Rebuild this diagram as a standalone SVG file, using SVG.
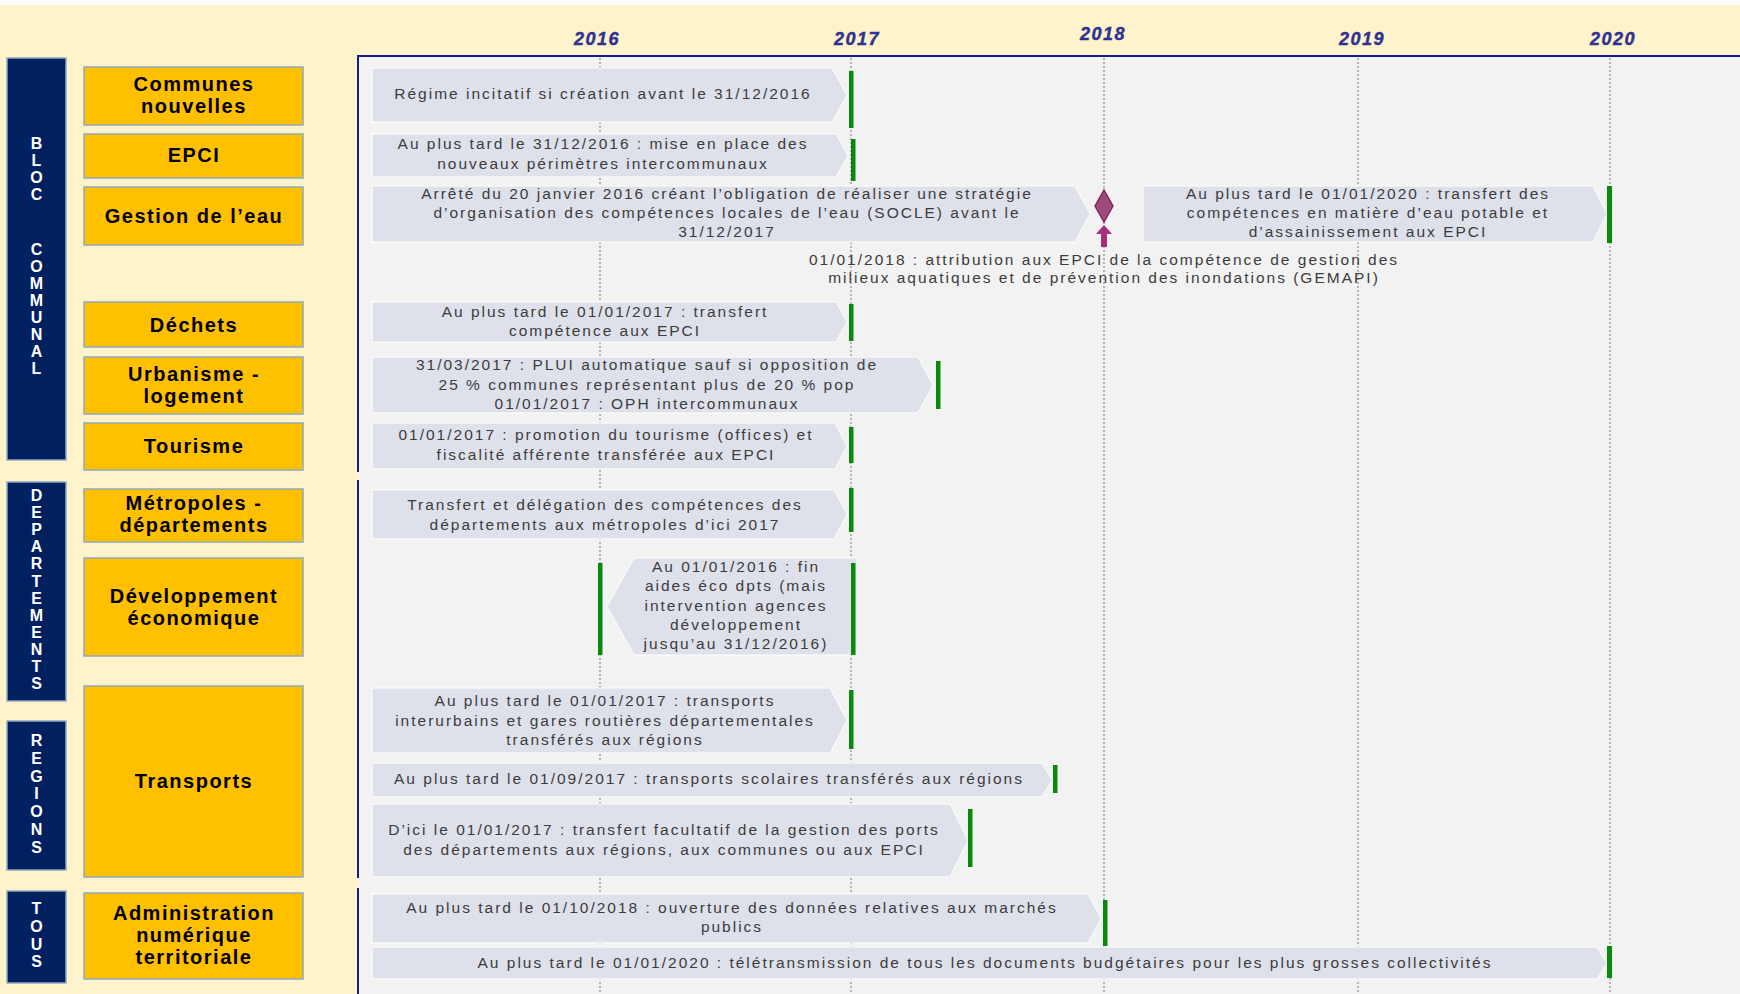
<svg xmlns="http://www.w3.org/2000/svg" width="1740" height="994" viewBox="0 0 1740 994">
<defs>
<style>
.bg{fill:#FFF3CC}
.cat{fill:#002060;stroke:#8FA9BF;stroke-width:1.5}
.catt{font-family:"Liberation Sans",Arial,sans-serif;font-weight:bold;font-size:16px;fill:#FFFFFF;text-anchor:middle}
.box{fill:#FFC000;stroke:#8FA9BF;stroke-width:1.5}
.boxt{font-family:"Liberation Sans",Arial,sans-serif;font-weight:bold;font-size:20px;fill:#000000;text-anchor:middle;letter-spacing:1.5px}
.arr{fill:#DEE1EA;stroke:#FFFFFF;stroke-width:1}
.t{font-family:"Liberation Sans",Arial,sans-serif;font-size:15.5px;fill:#3C3C3C;text-anchor:middle;letter-spacing:2px}
.yr{font-family:"Liberation Sans",Arial,sans-serif;font-weight:bold;font-style:italic;font-size:18px;fill:#2E3192;stroke:#2E3192;stroke-width:0.4;text-anchor:middle;letter-spacing:1.5px}
.grid{stroke:#8C8C8C;stroke-width:1.2;stroke-dasharray:2 2}
.gb{fill:#0A8A0A}
.pb{stroke:#1A1A8C;stroke-width:2;fill:none}
</style>
</defs>

<rect x="0" y="0" width="1740" height="994" fill="#FFFFFF"/>
<rect class="bg" x="0" y="5" width="1740" height="989"/>

<g id="timeline-panel">
<rect x="358" y="56" width="1382" height="938" fill="#F2F2F2"/>
<line class="pb" x1="358" y1="56" x2="1740" y2="56"/>
<line class="pb" x1="358" y1="55" x2="358" y2="472"/>
<line class="pb" x1="358" y1="480" x2="358" y2="878"/>
<line class="pb" x1="358" y1="888" x2="358" y2="994"/>
</g>

<g id="years">
<text class="yr" x="597" y="45">2016</text>
<text class="yr" x="857" y="45">2017</text>
<text class="yr" x="1103" y="40">2018</text>
<text class="yr" x="1362" y="45">2019</text>
<text class="yr" x="1613" y="45">2020</text>
</g>

<g id="gridlines">
<line class="grid" x1="600" y1="58" x2="600" y2="994"/>
<line class="grid" x1="851" y1="58" x2="851" y2="994"/>
<line class="grid" x1="1104" y1="58" x2="1104" y2="994"/>
<line class="grid" x1="1358" y1="58" x2="1358" y2="994"/>
<line class="grid" x1="1610" y1="58" x2="1610" y2="994"/>
</g>

<g id="cat-bloc-communal">
<rect class="cat" x="7" y="58" width="59" height="402"/>
<text class="catt" x="36.5" y="149"><tspan x="36.5">B</tspan><tspan x="36.5" dy="17">L</tspan><tspan x="36.5" dy="17">O</tspan><tspan x="36.5" dy="17">C</tspan><tspan x="36.5" dy="55">C</tspan><tspan x="36.5" dy="17">O</tspan><tspan x="36.5" dy="17">M</tspan><tspan x="36.5" dy="17">M</tspan><tspan x="36.5" dy="17">U</tspan><tspan x="36.5" dy="17">N</tspan><tspan x="36.5" dy="17">A</tspan><tspan x="36.5" dy="17">L</tspan></text>
</g>
<g id="cat-departements">
<rect class="cat" x="7" y="482" width="59" height="219"/>
<text class="catt" x="36.5" y="501"><tspan x="36.5">D</tspan><tspan x="36.5" dy="17.1">E</tspan><tspan x="36.5" dy="17.1">P</tspan><tspan x="36.5" dy="17.1">A</tspan><tspan x="36.5" dy="17.1">R</tspan><tspan x="36.5" dy="17.1">T</tspan><tspan x="36.5" dy="17.1">E</tspan><tspan x="36.5" dy="17.1">M</tspan><tspan x="36.5" dy="17.1">E</tspan><tspan x="36.5" dy="17.1">N</tspan><tspan x="36.5" dy="17.1">T</tspan><tspan x="36.5" dy="17.1">S</tspan></text>
</g>
<g id="cat-regions">
<rect class="cat" x="7" y="721" width="59" height="149"/>
<text class="catt" x="36.5" y="746"><tspan x="36.5">R</tspan><tspan x="36.5" dy="17.8">E</tspan><tspan x="36.5" dy="17.8">G</tspan><tspan x="36.5" dy="17.8">I</tspan><tspan x="36.5" dy="17.8">O</tspan><tspan x="36.5" dy="17.8">N</tspan><tspan x="36.5" dy="17.8">S</tspan></text>
</g>
<g id="cat-tous">
<rect class="cat" x="7" y="891" width="59" height="92"/>
<text class="catt" x="36.5" y="914"><tspan x="36.5">T</tspan><tspan x="36.5" dy="17.8">O</tspan><tspan x="36.5" dy="17.8">U</tspan><tspan x="36.5" dy="17.8">S</tspan></text>
</g>

<g id="box-communes-nouvelles"><rect class="box" x="84" y="67" width="219" height="58"/><text class="boxt" x="194" y="91">Communes</text><text class="boxt" x="194" y="113">nouvelles</text></g>
<g id="box-epci"><rect class="box" x="84" y="134" width="219" height="44"/><text class="boxt" x="194" y="162">EPCI</text></g>
<g id="box-gestion-eau"><rect class="box" x="84" y="187" width="219" height="58"/><text class="boxt" x="194" y="223">Gestion de l’eau</text></g>
<g id="box-dechets"><rect class="box" x="84" y="302" width="219" height="45"/><text class="boxt" x="194" y="332">Déchets</text></g>
<g id="box-urbanisme"><rect class="box" x="84" y="357" width="219" height="57"/><text class="boxt" x="194" y="381">Urbanisme -</text><text class="boxt" x="194" y="403">logement</text></g>
<g id="box-tourisme"><rect class="box" x="84" y="423" width="219" height="47"/><text class="boxt" x="194" y="453">Tourisme</text></g>
<g id="box-metropoles"><rect class="box" x="84" y="489" width="219" height="53"/><text class="boxt" x="194" y="510">Métropoles -</text><text class="boxt" x="194" y="532">départements</text></g>
<g id="box-developpement"><rect class="box" x="84" y="558" width="219" height="98"/><text class="boxt" x="194" y="603">Développement</text><text class="boxt" x="194" y="625">économique</text></g>
<g id="box-transports"><rect class="box" x="84" y="686" width="219" height="191"/><text class="boxt" x="194" y="788">Transports</text></g>
<g id="box-administration"><rect class="box" x="84" y="893" width="219" height="86"/><text class="boxt" x="194" y="920">Administration</text><text class="boxt" x="194" y="942">numérique</text><text class="boxt" x="194" y="964">territoriale</text></g>

<g id="ev-regime">
<polygon class="arr" points="372,68 832,68 847,95 832,122 372,122"/>
<text class="t" x="603" y="99">Régime incitatif si création avant le 31/12/2016</text>
</g>
<g id="ev-epci">
<polygon class="arr" points="372,134 836,134 848,155.5 836,177 372,177"/>
<text class="t" x="603" y="149">Au plus tard le 31/12/2016 : mise en place des</text>
<text class="t" x="603" y="169">nouveaux périmètres intercommunaux</text>
</g>
<g id="ev-socle">
<polygon class="arr" points="372,186 1075,186 1090,214 1075,242 372,242"/>
<text class="t" x="727" y="199">Arrêté du 20 janvier 2016 créant l’obligation de réaliser une stratégie</text>
<text class="t" x="727" y="218">d’organisation des compétences locales de l’eau (SOCLE) avant le</text>
<text class="t" x="727" y="237">31/12/2017</text>
</g>
<g id="ev-eau-2020">
<polygon class="arr" points="1143,186 1593,186 1607,214 1593,242 1143,242"/>
<text class="t" x="1368" y="199">Au plus tard le 01/01/2020 : transfert des</text>
<text class="t" x="1368" y="218">compétences en matière d’eau potable et</text>
<text class="t" x="1368" y="237">d’assainissement aux EPCI</text>
</g>
<g id="ev-gemapi">
<polygon points="1104,190 1113,206 1104,222 1095,206" fill="#A0497A" stroke="#7E2C5A" stroke-width="1.5"/>
<polygon points="1096,234 1104,225 1112,234 1107,234 1107,247 1101,247 1101,234" fill="#A3307D"/>
<text class="t" x="1104" y="265">01/01/2018 : attribution aux EPCI de la compétence de gestion des</text>
<text class="t" x="1104" y="283">milieux aquatiques et de prévention des inondations (GEMAPI)</text>
</g>
<g id="ev-dechets">
<polygon class="arr" points="372,302 836,302 847,322 836,342 372,342"/>
<text class="t" x="605" y="317">Au plus tard le 01/01/2017 : transfert</text>
<text class="t" x="605" y="336">compétence aux EPCI</text>
</g>
<g id="ev-urbanisme">
<polygon class="arr" points="372,357 918,357 933,385 918,413 372,413"/>
<text class="t" x="647" y="370">31/03/2017 : PLUI automatique sauf si opposition de</text>
<text class="t" x="647" y="390">25 % communes représentant plus de 20 % pop</text>
<text class="t" x="647" y="409">01/01/2017 : OPH intercommunaux</text>
</g>
<g id="ev-tourisme">
<polygon class="arr" points="372,423 835,423 847,446 835,469 372,469"/>
<text class="t" x="606" y="440">01/01/2017 : promotion du tourisme (offices) et</text>
<text class="t" x="606" y="460">fiscalité afférente transférée aux EPCI</text>
</g>
<g id="ev-metropoles">
<polygon class="arr" points="372,490 834,490 847,514.5 834,539 372,539"/>
<text class="t" x="605" y="510">Transfert et délégation des compétences des</text>
<text class="t" x="605" y="530">départements aux métropoles d’ici 2017</text>
</g>
<g id="ev-developpement">
<polygon class="arr" points="607,606.5 634,558 857,558 857,655 634,655"/>
<text class="t" x="736" y="572">Au 01/01/2016 : fin</text>
<text class="t" x="736" y="591">aides éco dpts (mais</text>
<text class="t" x="736" y="611">intervention agences</text>
<text class="t" x="736" y="630">développement</text>
<text class="t" x="736" y="649">jusqu’au 31/12/2016)</text>
</g>
<g id="ev-transports-interurbains">
<polygon class="arr" points="372,688 830,688 847,720.5 830,753 372,753"/>
<text class="t" x="605" y="706">Au plus tard le 01/01/2017 : transports</text>
<text class="t" x="605" y="726">interurbains et gares routières départementales</text>
<text class="t" x="605" y="745">transférés aux régions</text>
</g>
<g id="ev-transports-scolaires">
<polygon class="arr" points="372,763 1042,763 1052,780 1042,797 372,797"/>
<text class="t" x="709" y="784">Au plus tard le 01/09/2017 : transports scolaires transférés aux régions</text>
</g>
<g id="ev-ports">
<polygon class="arr" points="372,804 950,804 968,840.5 950,877 372,877"/>
<text class="t" x="664" y="835">D’ici le 01/01/2017 : transfert facultatif de la gestion des ports</text>
<text class="t" x="664" y="855">des départements aux régions, aux communes ou aux EPCI</text>
</g>
<g id="ev-marches-publics">
<polygon class="arr" points="372,894 1088,894 1101,918.5 1088,943 372,943"/>
<text class="t" x="732" y="913">Au plus tard le 01/10/2018 : ouverture des données relatives aux marchés</text>
<text class="t" x="732" y="932">publics</text>
</g>
<g id="ev-teletransmission">
<polygon class="arr" points="372,947 1597,947 1607,963 1597,979 372,979"/>
<text class="t" x="985" y="968">Au plus tard le 01/01/2020 : télétransmission de tous les documents budgétaires pour les plus grosses collectivités</text>
</g>

<g id="connectors">
<rect class="gb" x="849" y="71" width="4.5" height="57"/>
<rect class="gb" x="851" y="139" width="4.5" height="42"/>
<rect class="gb" x="1607" y="186" width="5" height="57"/>
<rect class="gb" x="849" y="304" width="4.5" height="37"/>
<rect class="gb" x="936" y="361" width="4.5" height="48"/>
<rect class="gb" x="849" y="427" width="4.5" height="36"/>
<rect class="gb" x="849" y="488" width="4.5" height="44"/>
<rect class="gb" x="598" y="563" width="4.5" height="92"/>
<rect class="gb" x="851" y="563" width="4.5" height="92"/>
<rect class="gb" x="849" y="690" width="4.5" height="59"/>
<rect class="gb" x="1053" y="765" width="4.5" height="28"/>
<rect class="gb" x="968" y="809" width="4.5" height="58"/>
<rect class="gb" x="1103" y="900" width="4.5" height="46"/>
<rect class="gb" x="1607" y="946" width="5" height="32"/>
</g>
</svg>
